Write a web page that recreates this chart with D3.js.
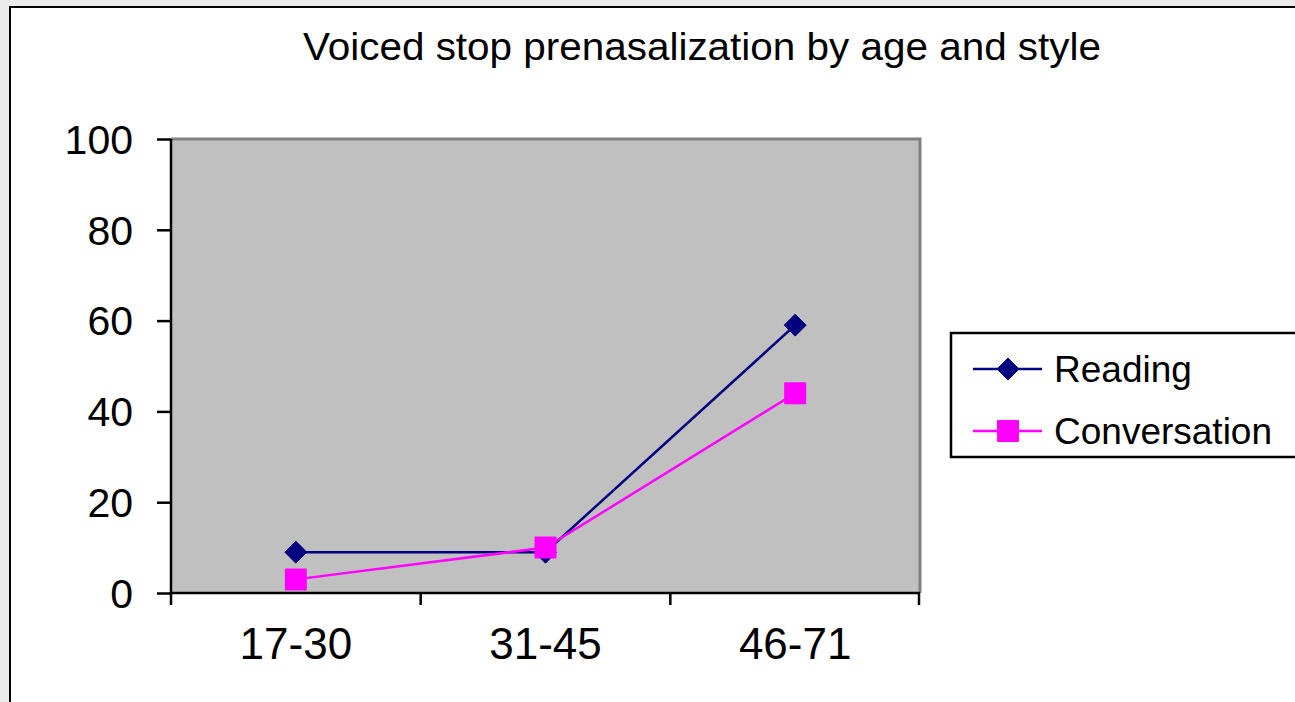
<!DOCTYPE html>
<html>
<head>
<meta charset="utf-8">
<script src="https://cdn.jsdelivr.net/npm/d3@7"></script>
<style>
  html, body { margin: 0; padding: 0; background: #ebebeb; }
  svg { display: block; font-family: "Liberation Sans", Arial, sans-serif; }
</style>
</head>
<body>
<svg id="chart" width="1295" height="702"></svg>
<script>
const categories = ['17-30', '31-45', '46-71'];
const readingValues = [9, 9, 59];
const conversationValues = [3, 10, 44];
const yTicks = [0, 20, 40, 60, 80, 100];
const seriesNames = ['Reading', 'Conversation'];

const svg = d3.select('#chart');

// chart frame
svg.append('rect')
    .attr('x', 10).attr('y', 7)
    .attr('width', 1300).attr('height', 710)
    .attr('fill', '#fff')
    .attr('stroke', '#000')
    .attr('stroke-width', 2);

svg.append('text')
    .attr('x', 303).attr('y', 60)
    .attr('font-size', 38)
    .attr('textLength', 798)
    .attr('lengthAdjust', 'spacingAndGlyphs')
    .text('Voiced stop prenasalization by age and style');

const plot = { left: 171, top: 139, right: 920, bottom: 593 };

const x = d3.scaleBand()
    .domain(categories)
    .range([plot.left, plot.right]);

const y = d3.scaleLinear()
    .domain([0, 100])
    .range([plot.bottom, plot.top]);

// plot background
svg.append('rect')
    .attr('x', plot.left).attr('y', plot.top)
    .attr('width', plot.right - plot.left)
    .attr('height', plot.bottom - plot.top)
    .attr('fill', '#c0c0c0');
svg.append('path')
    .attr('d', `M${plot.left},${plot.top}H${plot.right}V${plot.bottom}`)
    .attr('fill', 'none')
    .attr('stroke', '#808080')
    .attr('stroke-width', 3);

// y axis
const yAxis = svg.append('g')
    .attr('transform', `translate(${plot.left},0)`)
    .call(d3.axisLeft(y).tickValues(yTicks).tickSize(14).tickPadding(24));
yAxis.select('.domain').attr('stroke', '#000').attr('stroke-width', 2.5)
    .attr('d', `M0,${plot.top}V${plot.bottom}`);
yAxis.selectAll('.tick line').attr('stroke', '#000').attr('stroke-width', 2.5);
yAxis.selectAll('.tick text')
    .attr('font-size', 41)
    .attr('font-family', '"Liberation Sans", Arial, sans-serif')
    .attr('fill', '#000')
    .attr('dy', '0.35em');

// x axis
const xAxis = svg.append('g')
    .attr('transform', `translate(0,${plot.bottom})`)
    .call(d3.axisBottom(x).tickSize(0).tickPadding(0));
xAxis.select('.domain').attr('stroke', '#000').attr('stroke-width', 2.5)
    .attr('d', `M${plot.left},0H${plot.right}`);
xAxis.selectAll('.tick text')
    .attr('font-size', 44)
    .attr('font-family', '"Liberation Sans", Arial, sans-serif')
    .attr('fill', '#000')
    .attr('y', 66)
    .attr('dy', 0);
const boundaries = categories.map(c => x(c)).concat([x.range()[1] - 1]);
xAxis.selectAll('.bound')
    .data(boundaries)
    .enter().append('line')
    .attr('x1', d => d).attr('x2', d => d)
    .attr('y1', 0).attr('y2', 12)
    .attr('stroke', '#000')
    .attr('stroke-width', 2.5);

const cx = c => x(c) + x.bandwidth() / 2;

const series = [
    { name: seriesNames[0], values: readingValues, color: '#000080', shape: 'diamond' },
    { name: seriesNames[1], values: conversationValues, color: '#ff00ff', shape: 'square' }
];

const line = d3.line()
    .x(d => cx(d.cat))
    .y(d => y(d.v));

function drawMarker(g, shape, color, px, py) {
    if (shape === 'diamond') {
        g.append('path')
            .attr('d', `M${px},${py - 11}L${px + 11},${py}L${px},${py + 11}L${px - 11},${py}Z`)
            .attr('fill', color)
            .attr('stroke', color)
            .attr('stroke-linejoin', 'round');
    } else {
        g.append('rect')
            .attr('x', px - 11).attr('y', py - 11)
            .attr('width', 22).attr('height', 22)
            .attr('rx', 1)
            .attr('fill', color);
    }
}

series.forEach(s => {
    const pts = categories.map((c, i) => ({ cat: c, v: s.values[i] }));
    svg.append('path')
        .datum(pts)
        .attr('d', line)
        .attr('fill', 'none')
        .attr('stroke', s.color)
        .attr('stroke-width', 2.5);
    const g = svg.append('g');
    pts.forEach(p => drawMarker(g, s.shape, s.color, cx(p.cat), y(p.v)));
});

// legend
svg.append('rect')
    .attr('x', 951).attr('y', 333)
    .attr('width', 360).attr('height', 124)
    .attr('fill', '#fff')
    .attr('stroke', '#000')
    .attr('stroke-width', 2.5);

series.forEach((s, i) => {
    const ly = 369 + i * 62;
    const g = svg.append('g');
    g.append('line')
        .attr('x1', 973).attr('x2', 1042)
        .attr('y1', ly).attr('y2', ly)
        .attr('stroke', s.color)
        .attr('stroke-width', 2.5);
    drawMarker(g, s.shape, s.color, 1008, ly);
    g.append('text')
        .attr('x', 1054).attr('y', ly)
        .attr('dy', '0.35em')
        .attr('font-size', 37)
        .text(s.name);
});
</script>
</body>
</html>
